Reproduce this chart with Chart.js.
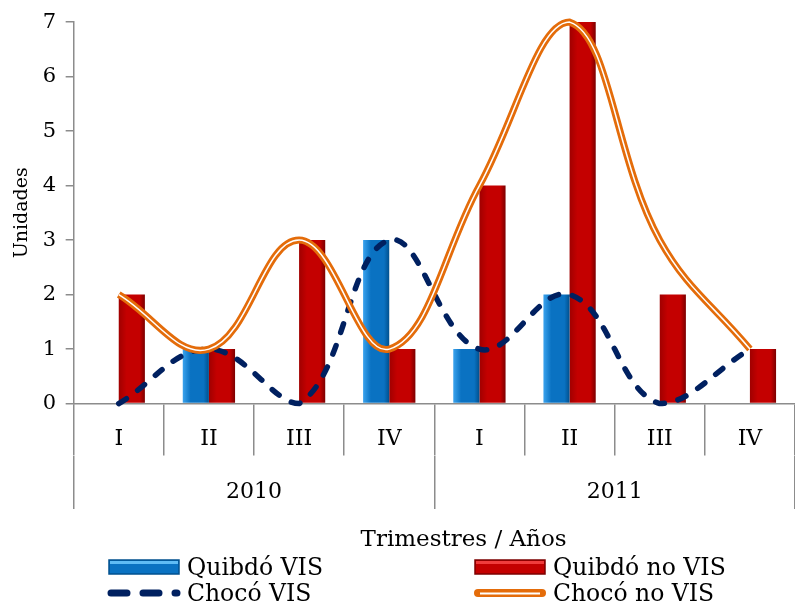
<!DOCTYPE html>
<html>
<head>
<meta charset="utf-8">
<script src="https://cdn.jsdelivr.net/npm/chart.js@4.4.0/dist/chart.umd.min.js"></script>
<style>
  html, body { margin: 0; padding: 0; background: #fff; }
  #wrap { position: relative; width: 795px; height: 604px; }
  #legend { position: absolute; left: 107px; top: 554px; display: grid; grid-template-columns: 366px 300px; grid-auto-rows: 26px;
            font-family: 'DejaVu Serif', serif; font-size: 23.5px; color: #000; }
  .item { display: flex; align-items: center; white-space: nowrap; }
  .item svg { margin-right: 6px; flex: none; }
</style>
</head>
<body>
<div id="wrap">
  <canvas id="chart" width="795" height="604"></canvas>
  <div id="legend"></div>
</div>
<script>
// datos
var trimestres = ['I', 'II', 'III', 'IV', 'I', 'II', 'III', 'IV'];
var anios = ['2010', '2011'];
var quibdoVis = [0, 1, 0, 3, 1, 2, 0, 0];
var quibdoNoVis = [2, 1, 3, 1, 4, 7, 2, 1];
var chocoVis = [0, 1, 0, 3, 1, 2, 0, 1];
var chocoNoVis = [2, 1, 3, 1, 4, 7, 3, 1];

var fuente = 'DejaVu Serif';
var gris = '#8c8c8c';
var catPct = 0.58;

// degradado horizontal de cada barra
function barFill(stops) {
  return function (ctx) {
    var chart = ctx.chart, x = chart.scales.x;
    if (!x || !x.width || ctx.dataIndex == null) return stops[1];
    var c = x.getPixelForValue(ctx.dataIndex);
    var w = x.width / trimestres.length * catPct / 2;
    var left = ctx.datasetIndex === 0 ? c - w : c;
    var g = chart.ctx.createLinearGradient(left, 0, left + w, 0);
    g.addColorStop(0, stops[0]);
    g.addColorStop(0.3, stops[1]);
    g.addColorStop(0.8, stops[1]);
    g.addColorStop(1, stops[2]);
    return g;
  };
}

// leyenda en html (dos columnas)
var htmlLegend = {
  id: 'htmlLegend',
  afterUpdate: function (chart) {
    var box = document.getElementById('legend');
    box.innerHTML = '';
    chart.data.datasets.forEach(function (ds) {
      if (!ds.label) return;
      var svg;
      if (ds.type === 'line' && ds.borderDash) {
        svg = '<svg width="74" height="16"><line x1="4" y1="8" x2="70" y2="8" stroke="' + ds.borderColor +
              '" stroke-width="7" stroke-linecap="round" stroke-dasharray="16 16"/></svg>';
      } else if (ds.type === 'line') {
        svg = '<svg width="74" height="16"><line x1="5" y1="8" x2="69" y2="8" stroke="' + ds.borderColor +
              '" stroke-width="8" stroke-linecap="round"/><line x1="7" y1="8.5" x2="67" y2="8.5" stroke="#fff" stroke-width="2"/></svg>';
      } else {
        svg = '<svg width="74" height="16"><rect x="2" y="1" width="70" height="14" fill="' + ds.baseColor +
              '" stroke="' + ds.edgeColor + '" stroke-width="1.5"/><rect x="3" y="2" width="68" height="3" fill="' + ds.lightColor + '"/></svg>';
      }
      var item = document.createElement('div');
      item.className = 'item';
      item.innerHTML = svg + '<span>' + ds.label + '</span>';
      box.appendChild(item);
    });
  }
};

var ctx = document.getElementById('chart');
var chart = new Chart(ctx, {
  type: 'bar',
  data: {
    labels: trimestres,
    datasets: [{
      label: 'Quibdó VIS',
      data: quibdoVis,
      backgroundColor: barFill(['#3aa3ee', '#0a72c2', '#00508e']),
      baseColor: '#0a72c2', edgeColor: '#00508e', lightColor: '#5fbcf5',
      categoryPercentage: catPct,
      barPercentage: 1,
      order: 3
    }, {
      label: 'Quibdó no VIS',
      data: quibdoNoVis,
      backgroundColor: barFill(['#a00000', '#c40000', '#7c0000']),
      baseColor: '#c40000', edgeColor: '#7c0000', lightColor: '#f03c3c',
      categoryPercentage: catPct,
      barPercentage: 1,
      order: 3
    }, {
      type: 'line',
      label: 'Chocó VIS',
      data: chocoVis,
      borderColor: '#002060',
      borderWidth: 5.5,
      borderDash: [9, 14],
      borderCapStyle: 'round',
      tension: 0.4,
      pointRadius: 0,
      fill: false,
      clip: false,
      order: 2
    }, {
      type: 'line',
      label: 'Chocó no VIS',
      data: chocoNoVis,
      borderColor: '#e46c0a',
      borderWidth: 7,
      tension: 0.4,
      pointRadius: 0,
      fill: false,
      clip: false,
      order: 1
    }, {
      // linea blanca interior (doble linea)
      type: 'line',
      label: '',
      data: chocoNoVis,
      borderColor: '#ffffff',
      borderWidth: 1.5,
      tension: 0.4,
      pointRadius: 0,
      fill: false,
      clip: false,
      order: 0
    }]
  },
  options: {
    responsive: false,
    animation: false,
    layout: { padding: { top: 10, left: 10.5, right: 0, bottom: 50 } },
    plugins: {
      legend: { display: false },
      tooltip: { enabled: false }
    },
    scales: {
      x: {
        weight: 0,
        grid: { drawOnChartArea: false, tickLength: 52, color: gris, lineWidth: 1.5 },
        border: { color: gris, width: 1.5 },
        ticks: { font: { family: fuente, size: 22 }, color: '#000', padding: -30, maxRotation: 0, autoSkip: false },
        // titulo vacio: solo reserva alto para las etiquetas
        title: { display: true, text: ' ', font: { size: 10 }, padding: { top: 22, bottom: 0 } }
      },
      x2: {
        type: 'category',
        labels: anios,
        position: 'bottom',
        weight: 1,
        offset: true,
        grid: { offset: true, drawOnChartArea: false, tickLength: 53, color: gris, lineWidth: 1.5 },
        border: { display: false },
        ticks: { font: { family: fuente, size: 22 }, color: '#000', padding: -30, maxRotation: 0 },
        title: {
          display: true,
          text: '        Trimestres / Años',
          font: { family: fuente, size: 23 },
          color: '#000',
          padding: { top: 51, bottom: 0 }
        }
      },
      y: {
        min: 0,
        max: 7,
        ticks: { stepSize: 1, font: { family: fuente, size: 21 }, color: '#000', padding: 9.5 },
        grid: { drawOnChartArea: false, tickLength: 8, color: gris, lineWidth: 1.5 },
        border: { color: gris, width: 1.5 },
        title: {
          display: true,
          text: 'Unidades',
          font: { family: fuente, size: 19 },
          color: '#000',
          padding: { top: 0, bottom: 0 }
        }
      }
    }
  },
  plugins: [htmlLegend]
});
</script>
</body>
</html>
